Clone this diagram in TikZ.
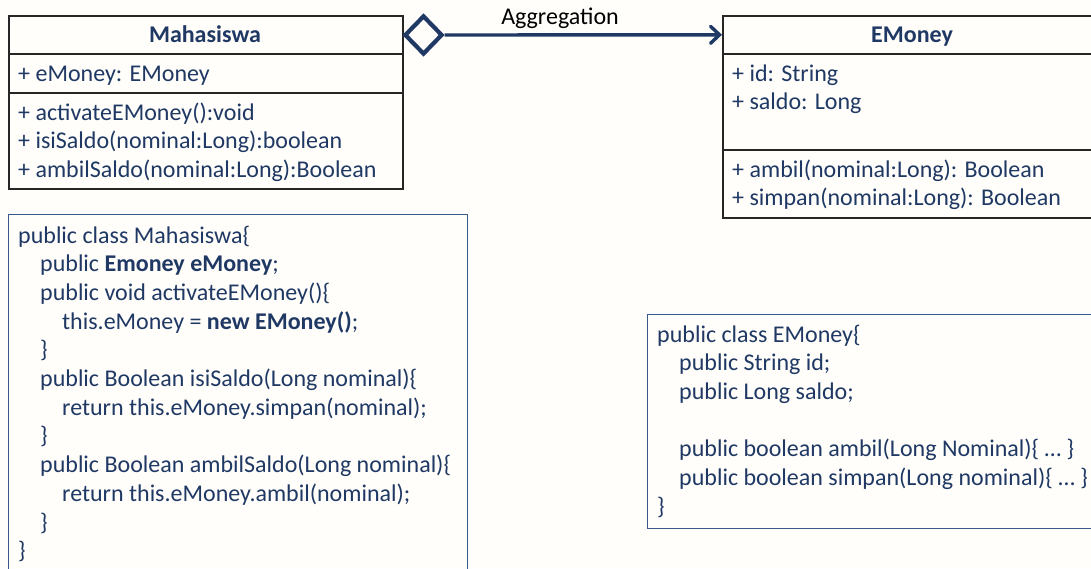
\documentclass[tikz,border=0pt]{standalone}
\usepackage{fontspec}
\setmainfont{Carlito}
\usetikzlibrary{shapes.geometric,arrows.meta}
\definecolor{navy}{HTML}{1F3864}
\definecolor{bgc}{HTML}{FFFEFA}
\definecolor{boxline}{HTML}{262626}
\definecolor{codeline}{HTML}{3A5A8C}
\begin{document}
\begin{tikzpicture}[x=1pt,y=-1pt,
  txt/.style={font=\fontsize{24}{28.7}\selectfont, text=navy, inner sep=0pt, anchor=base west},
  umlpart/.style={draw=boxline, line width=1.6pt, anchor=north west, inner sep=0pt},
  codebox/.style={draw=codeline, line width=1.3pt, anchor=north west, inner sep=0pt}]
\useasboundingbox (0,0) rectangle (1091,568);
\fill[bgc] (0,0) rectangle (1091,568);
\clip (0,0) rectangle (1091,568);

% Mahasiswa class
\node[umlpart, minimum width=394pt, minimum height=38pt] (mhead) at (8,15) {};
\node[umlpart, minimum width=394pt, minimum height=39pt] (mattr) at (8,53) {};
\node[umlpart, minimum width=394pt, minimum height=96pt] (mops) at (8,92) {};
\node[txt, anchor=base, font=\fontsize{24}{28.7}\selectfont\bfseries] (mtitle) at (205,42) {Mahasiswa};
\node[txt] (ma1) at (18,81) {+ eMoney: EMoney};
\node[txt] (mo1) at (18,120) {+ activateEMoney():void};
\node[txt] (mo2) at (18,148.7) {+ isiSaldo(nominal:Long):boolean};
\node[txt] (mo3) at (18,177.4) {+ ambilSaldo(nominal:Long):Boolean};

% EMoney class
\node[umlpart, minimum width=380pt, minimum height=38pt] (ehead) at (722,15) {};
\node[umlpart, minimum width=380pt, minimum height=96pt] (eattr) at (722,53) {};
\node[umlpart, minimum width=380pt, minimum height=68pt] (eops) at (722,149) {};
\node[txt, anchor=base, font=\fontsize{24}{28.7}\selectfont\bfseries] (etitle) at (912,42) {EMoney};
\node[txt] (ea1) at (732,81) {+ id: String};
\node[txt] (ea2) at (732,109.7) {+ saldo: Long};
\node[txt] (eo1) at (732,177) {+ ambil(nominal:Long): Boolean};
\node[txt] (eo2) at (732,205.7) {+ simpan(nominal:Long): Boolean};

% Aggregation
\node[diamond, draw=navy, line width=4.2pt, fill=bgc, minimum width=38pt, minimum height=39pt, inner sep=0pt] (agg) at (423.5,35) {};
\draw[navy, line width=3.4pt, -{Straight Barb[length=9pt,width=17pt,line cap=round]}] (agg.east) -- (ehead.west);
\node[txt, anchor=base, text=black] (agglabel) at (560,24) {Aggregation};

% Code box Mahasiswa
\node[codebox, minimum width=459pt, minimum height=380pt] (code1) at (8,214) {};
\node[txt] (c1l1) at (18,243) {public class Mahasiswa\{};
\node[txt] (c1l2) at (40,271.7) {public \textbf{Emoney eMoney};};
\node[txt] (c1l3) at (40,300.4) {public void activateEMoney()\{};
\node[txt] (c1l4) at (62,329.1) {this.eMoney = \textbf{new EMoney()};};
\node[txt] (c1l5) at (40,357.8) {\}};
\node[txt] (c1l6) at (40,386.5) {public Boolean isiSaldo(Long nominal)\{};
\node[txt] (c1l7) at (62,415.2) {return this.eMoney.simpan(nominal);};
\node[txt] (c1l8) at (40,443.9) {\}};
\node[txt] (c1l9) at (40,472.6) {public Boolean ambilSaldo(Long nominal)\{};
\node[txt] (c1l10) at (62,501.3) {return this.eMoney.ambil(nominal);};
\node[txt] (c1l11) at (40,530) {\}};
\node[txt] (c1l12) at (18,558.7) {\}};

% Code box EMoney
\node[codebox, minimum width=460pt, minimum height=214pt] (code2) at (647,314) {};
\node[txt] (c2l1) at (657,342) {public class EMoney\{};
\node[txt] (c2l2) at (679,370.7) {public String id;};
\node[txt] (c2l3) at (679,399.4) {public Long saldo;};
\node[txt] (c2l5) at (679,456.8) {public boolean ambil(Long Nominal)\{ \dots\ \}};
\node[txt] (c2l6) at (679,485.5) {public boolean simpan(Long nominal)\{ \dots\ \}};
\node[txt] (c2l7) at (657,514.2) {\}};
\end{tikzpicture}
\end{document}
